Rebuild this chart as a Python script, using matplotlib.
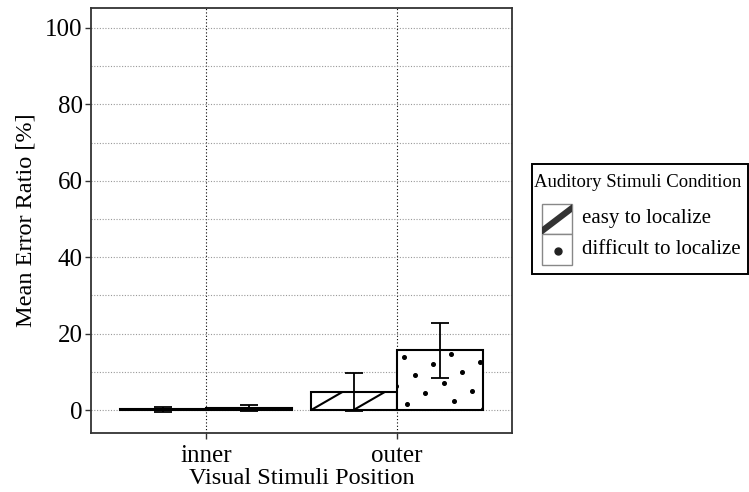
import numpy as np
import matplotlib
matplotlib.use('Agg')
import matplotlib.pyplot as plt
from matplotlib.lines import Line2D
from matplotlib.patches import Rectangle
from matplotlib.transforms import IdentityTransform

# ------------ data ---------------
positions = ['inner', 'outer']
conditions = ['easy to localize', 'difficult to localize']
easy_mean = [0.2, 4.8]
easy_err = [0.6, 5.0]
diff_mean = [0.5, 15.7]
diff_err = [0.8, 7.2]
y_ticks = [0, 20, 40, 60, 80, 100]

plt.rcParams['font.family'] = ['Liberation Serif', 'DejaVu Serif']

W, H, DPI = 749, 492, 100
fig = plt.figure(figsize=(W / DPI, H / DPI), dpi=DPI)
# panel in pixels: left 91, right 512, top 8, bottom 433
ax = fig.add_axes([91 / W, (H - 433) / H, 421 / W, 425 / H])

x = np.arange(1, len(positions) + 1)
bw = 0.45
bar_kw = dict(width=bw, facecolor='white', edgecolor='black', linewidth=1.5, zorder=3)
easy_bars = ax.bar(x - bw / 2, easy_mean, **bar_kw)
diff_bars = ax.bar(x + bw / 2, diff_mean, **bar_kw)

err_kw = dict(fmt='none', ecolor='black', elinewidth=1.3, capsize=6.8, capthick=1.3, zorder=5)
ax.errorbar(x - bw / 2, easy_mean, yerr=easy_err, **err_kw)
ax.errorbar(x + bw / 2, diff_mean, yerr=diff_err, **err_kw)

ax.set_xlim(0.4, 2.6)
ax.set_ylim(-6.0, 105.2)
ax.set_xticks(x)
ax.set_xticklabels(positions)
ax.set_yticks(y_ticks)
ax.set_yticks(np.arange(10, 100, 20), minor=True)
ax.tick_params(axis='both', which='major', labelsize=18, length=4, width=1,
               color='#333333', pad=2)
ax.tick_params(axis='x', which='major', pad=5)
ax.tick_params(axis='y', which='minor', length=0)
ax.grid(axis='y', which='both', linestyle=(0, (1, 1.5)), color='#999999', linewidth=0.8, zorder=0)
ax.grid(axis='x', which='major', linestyle=(0, (1, 2)), color='black', linewidth=0.8, zorder=0)
ax.set_axisbelow(True)
for s in ax.spines.values():
    s.set_color('#333333')
    s.set_linewidth(1.3)

ax.set_xlabel('Visual Stimuli Position', fontsize=17.5, labelpad=0)
ax.set_ylabel('Mean Error Ratio [%]', fontsize=17.5, labelpad=6)

# ------------ patterns (drawn in pixel space, clipped to the bars) ---------------
SPACING = 21.2
ANGLE = np.deg2rad(30)
DOT_PHASE = (3.3, -2.7)
fig.canvas.draw()

def stripes(bar):
    (x0, y0), (x1, y1) = bar.get_window_extent().get_points()
    step = SPACING / np.sin(ANGLE)
    length = 200
    for k in range(-5, 5):
        sx = x0 + k * step
        ln = Line2D([sx, sx + length * np.cos(ANGLE)], [y0, y0 + length * np.sin(ANGLE)],
                    transform=IdentityTransform(), color='black', linewidth=1.5, zorder=4)
        ax.add_artist(ln)
        ln.set_clip_path(bar)

def dots(bar):
    (x0, y0), (x1, y1) = bar.get_window_extent().get_points()
    cx, cy = (x0 + x1) / 2 + DOT_PHASE[0], (y0 + y1) / 2 + DOT_PHASE[1]
    u = SPACING * np.array([np.cos(ANGLE), np.sin(ANGLE)])
    v = SPACING * np.array([np.sin(ANGLE), -np.cos(ANGLE)])
    ii, jj = np.meshgrid(np.arange(-8, 9), np.arange(-8, 9))
    px = cx + ii.ravel() * u[0] + jj.ravel() * v[0]
    py = cy + ii.ravel() * u[1] + jj.ravel() * v[1]
    ln = Line2D(px, py, linestyle='none', marker='o', markersize=2.6, color='black',
                transform=IdentityTransform(), zorder=4)
    ax.add_artist(ln)
    ln.set_clip_path(bar)

for b in easy_bars:
    stripes(b)
for b in diff_bars:
    dots(b)

# ------------ legend (manual, pixel units) ---------------
lx0, lx1, ly0, ly1 = 532, 748, 164, 274
lax = fig.add_axes([lx0 / W, (H - ly1) / H, (lx1 - lx0) / W, (ly1 - ly0) / H])
lax.set_xlim(0, lx1 - lx0)
lax.set_ylim(0, ly1 - ly0)
lax.set_axis_off()
lax.add_patch(Rectangle((0, 0), lx1 - lx0, ly1 - ly0, facecolor='white', edgecolor='black',
                        linewidth=1.4, clip_on=False))
lax.text(2, 91, 'Auditory Stimuli Condition', fontsize=13.5, va='center', ha='left')

key1 = Rectangle((10, 40), 30, 30, facecolor='white', edgecolor='#888888', linewidth=1)
key2 = Rectangle((10, 9), 30, 31, facecolor='white', edgecolor='#888888', linewidth=1)
lax.add_patch(key1)
lax.add_patch(key2)
kl = Line2D([2, 48], [37, 72], color='#333333', linewidth=4.5, solid_capstyle='butt')
lax.add_artist(kl)
kl.set_clip_path(key1)
lax.plot([25.5], [23], marker='o', markersize=5, color='#222222')
lax.text(50, 55, conditions[0], fontsize=15, va='center', ha='left')
lax.text(50, 24, conditions[1], fontsize=15, va='center', ha='left')

fig.savefig('out.png', dpi=DPI)
